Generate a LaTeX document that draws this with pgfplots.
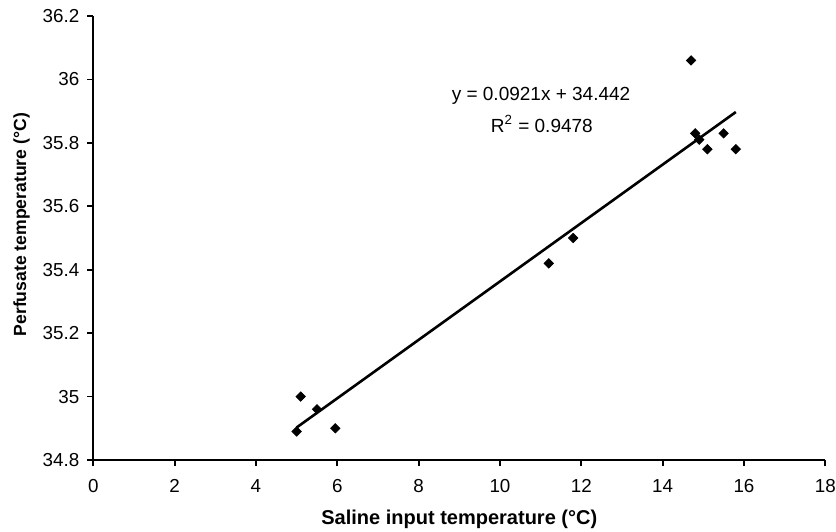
\documentclass[border=0pt]{standalone}
\usepackage{fontspec}
\setmainfont{Liberation Sans}
\usepackage{pgfplots}
\pgfplotsset{compat=1.18}

\begin{document}
\begin{tikzpicture}
\begin{axis}[
    name=ax,
    scale only axis,
    width=366pt, height=222pt,
    xmin=0, xmax=18, ymin=34.8, ymax=36.2,
    xtick={0,2,...,18},
    ytick={34.8,35,35.2,35.4,35.6,35.8,36,36.2},
    axis lines=left,
    axis line style={-, line width=0.9pt},
    tick align=outside,
    major tick length=3pt,
    tick style={line width=0.9pt, black},
    /pgf/number format/assume math mode=true,
    ticklabel style={font=\fontsize{9.4}{11}\selectfont},
    xticklabel style={yshift=-3pt},
    yticklabel style={xshift=-0.5pt},
    xlabel={Saline input temperature (°C)},
    ylabel={Perfusate temperature (°C)},
    xlabel style={font=\bfseries\fontsize{10}{12}\selectfont,
        at={(axis description cs:0.5,-0.133)}, anchor=center},
    ylabel style={font=\bfseries\fontsize{8.8}{10}\selectfont,
        at={(axis description cs:-0.098,0.53)}, anchor=center},
    clip=false,
]
% measured points
\addplot[only marks, mark=square*, mark size=1.64pt,
    mark options={rotate=45, fill=black, draw=black}] coordinates {
    (5.0, 34.89) (5.1, 35.00) (5.5, 34.96) (5.95, 34.90)
    (11.2, 35.42) (11.8, 35.50)
    (14.7, 36.06) (14.8, 35.83) (14.9, 35.81) (15.1, 35.78)
    (15.5, 35.83) (15.8, 35.78)
};
% linear trend line, y = 0.0921x + 34.442
\addplot[black, line width=1.3pt, no marks] coordinates {
    (5.0, 34.9025) (15.8, 35.8972)
};
\node[font=\fontsize{9.5}{11}\selectfont] at (axis cs:11.01,35.948) {y = 0.0921x + 34.442};
\node[font=\fontsize{9.5}{11}\selectfont] at (axis cs:11.03,35.859) {R\textsuperscript{2} = 0.9478};
\end{axis}
\pgfresetboundingbox
\path[use as bounding box] (ax.south west) ++(-46.65pt,-35.5pt) rectangle ++(418pt,265.5pt);
\end{tikzpicture}
\end{document}
